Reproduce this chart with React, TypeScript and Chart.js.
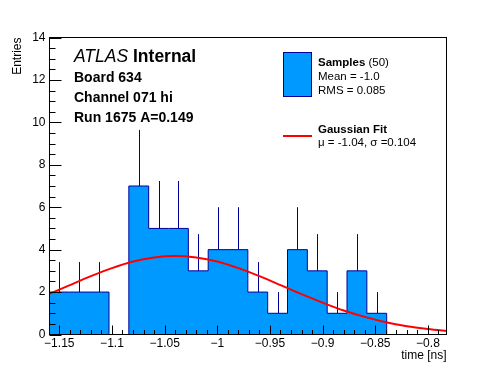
import React, { useEffect, useRef } from "react";
import { Chart, registerables } from "chart.js";

Chart.register(...registerables);

// ---- data ----
const binLow = -1.1593;
const binWidth = 0.01883;
const binCounts = [2, 2, 2, 0, 7, 5, 5, 3, 4, 4, 2, 1, 4, 3, 1, 3, 1];

const fitX = [-1.16, -1.14, -1.12, -1.1, -1.08, -1.06, -1.04, -1.02, -1.0, -0.98, -0.96, -0.94, -0.92, -0.9, -0.88, -0.86, -0.84, -0.82, -0.8, -0.78];
const fitY = [1.9, 2.33, 2.75, 3.13, 3.44, 3.63, 3.7, 3.63, 3.44, 3.13, 2.75, 2.33, 1.9, 1.5, 1.13, 0.83, 0.58, 0.39, 0.26, 0.16];

const xMin = -1.1593;
const xMax = -0.7824;
const yMin = 0;
const yMax = 14;
const xTickValues = [-1.15, -1.1, -1.05, -1, -0.95, -0.9, -0.85, -0.8];
const yTickValues = [0, 2, 4, 6, 8, 10, 12, 14];

const atlasWord = "ATLAS";
const atlasTag = "Internal";
const infoLines = ["Board 634", "Channel 071 hi", "Run 1675 A=0.149"];
const samplesLabel = "Samples";
const samplesCount = " (50)";
const samplesStats = ["Mean = -1.0", "RMS = 0.085"];
const fitLabel = "Gaussian Fit";
const fitStats = "\u03bc = -1.04, \u03c3 =0.104";
const xTitle = "time [ns]";
const yTitle = "Entries";

// ---- styles ----
const FONT = '"Liberation Sans", Arial, Helvetica, sans-serif';
const FILL = "#0099ff";
const EDGE = "#000099";
const FITC = "#ff0000";

function fmtX(v: number): string {
  const s = String(Math.round(v * 100) / 100);
  return s.replace("-", "\u2212");
}

const overlay = {
  id: "rootStyle",
  afterDatasetDraw(chart: any, args: any) {
    if (args.index !== 1) return;
    const ctx = chart.ctx;
    const xs = chart.scales.x;
    const ys = chart.scales.y;
    ctx.save();
    ctx.strokeStyle = EDGE;
    ctx.lineWidth = 1;
    binCounts.forEach((c, i) => {
      if (c <= 0) return;
      const cx = binLow + (i + 0.5) * binWidth;
      const px = Math.round(xs.getPixelForValue(cx)) + 0.5;
      const y1 = ys.getPixelForValue(c);
      const y2 = ys.getPixelForValue(c + Math.sqrt(c));
      ctx.beginPath();
      ctx.moveTo(px, y1);
      ctx.lineTo(px, y2);
      ctx.stroke();
    });
    ctx.restore();
  },
  afterDraw(chart: any) {
    const ctx = chart.ctx;
    const a = chart.chartArea;
    const xs = chart.scales.x;
    const ys = chart.scales.y;
    ctx.save();
    // frame
    ctx.strokeStyle = "#000";
    ctx.lineWidth = 1;
    ctx.strokeRect(a.left, a.top, a.right - a.left, a.bottom - a.top);
    // y ticks
    ctx.beginPath();
    for (let k = 0; k <= 28; k++) {
      const v = k * 0.5;
      const py = Math.round(ys.getPixelForValue(v)) + 0.5;
      const len = k % 4 === 0 ? 12 : 6;
      ctx.moveTo(a.left, py);
      ctx.lineTo(a.left + len, py);
    }
    // x ticks
    for (let k = -116; k <= -78; k++) {
      const v = k / 100;
      if (v < xMin || v > xMax) continue;
      const px = Math.round(xs.getPixelForValue(v)) + 0.5;
      const len = k % 5 === 0 ? 9 : 4.5;
      ctx.moveTo(px, a.bottom);
      ctx.lineTo(px, a.bottom - len);
    }
    ctx.stroke();

    // labels top-left
    ctx.fillStyle = "#000";
    ctx.textBaseline = "alphabetic";
    ctx.textAlign = "left";
    ctx.font = `italic 17.5px ${FONT}`;
    ctx.fillText(atlasWord, 74, 62);
    const w1 = ctx.measureText(atlasWord + " ").width;
    ctx.font = `bold 17.5px ${FONT}`;
    ctx.fillText(atlasTag, 74 + w1, 62);
    ctx.font = `bold 14px ${FONT}`;
    infoLines.forEach((t, i) => ctx.fillText(t, 74, 82 + i * 20));

    // legend
    ctx.fillStyle = FILL;
    ctx.fillRect(283, 52, 29, 45);
    ctx.strokeStyle = EDGE;
    ctx.strokeRect(283.5, 52.5, 28, 44);
    ctx.fillStyle = "#000";
    ctx.font = `bold 11.5px ${FONT}`;
    ctx.fillText(samplesLabel, 318, 66);
    const w2 = ctx.measureText(samplesLabel).width;
    ctx.font = `11.5px ${FONT}`;
    ctx.fillText(samplesCount, 318 + w2, 66);
    ctx.fillText(samplesStats[0], 318, 80);
    ctx.fillText(samplesStats[1], 318, 94);

    ctx.strokeStyle = FITC;
    ctx.lineWidth = 2;
    ctx.beginPath();
    ctx.moveTo(283, 136);
    ctx.lineTo(312, 136);
    ctx.stroke();
    ctx.font = `bold 11.5px ${FONT}`;
    ctx.fillText(fitLabel, 318, 133);
    ctx.font = `11.5px ${FONT}`;
    ctx.fillText(fitStats, 318, 146);
    ctx.restore();
  },
};

export default function App() {
  const ref = useRef<HTMLCanvasElement | null>(null);
  useEffect(() => {
    if (!ref.current) return;
    const edges = binCounts.map((_, i) => binLow + i * binWidth);
    const lastEdge = binLow + binCounts.length * binWidth;
    const histPts: { x: number; y: number }[] = [{ x: binLow, y: 0 }];
    binCounts.forEach((c, i) => histPts.push({ x: edges[i], y: c }));
    histPts.push({ x: lastEdge, y: binCounts[binCounts.length - 1] });
    histPts.push({ x: lastEdge, y: 0 });

    const chart = new Chart(ref.current, {
      type: "line",
      data: {
        datasets: [
          {
            label: "fit",
            data: fitX.map((x, i) => ({ x, y: fitY[i] })),
            borderColor: FITC,
            borderWidth: 2,
            pointRadius: 0,
            cubicInterpolationMode: "monotone",
            fill: false,
            order: 0,
          } as any,
          {
            label: "hist",
            data: histPts,
            stepped: "before",
            borderColor: EDGE,
            borderWidth: 1,
            backgroundColor: FILL,
            fill: "origin",
            pointRadius: 0,
            order: 1,
          } as any,
        ],
      },
      options: {
        responsive: false,
        animation: false,
        devicePixelRatio: 1,
        layout: { padding: { left: 0, right: 49.5, top: 37.5, bottom: 0 } },
        plugins: { legend: { display: false }, tooltip: { enabled: false } },
        scales: {
          x: {
            type: "linear",
            min: xMin,
            max: xMax,
            grid: { display: false, drawTicks: false },
            border: { display: false },
            afterBuildTicks: (s: any) => {
              s.ticks = xTickValues.map((v) => ({ value: v }));
            },
            afterFit: (s: any) => {
              s.height = 37.5;
            },
            ticks: {
              autoSkip: false,
              maxRotation: 0,
              padding: 2,
              color: "#000",
              font: { family: FONT, size: 12 },
              callback: (v: any) => fmtX(Number(v)),
            },
            title: {
              display: true,
              text: xTitle,
              align: "end",
              color: "#000",
              font: { family: FONT, size: 12 },
              padding: { top: 0, bottom: 9 },
            },
          },
          y: {
            type: "linear",
            min: yMin,
            max: yMax,
            grid: { display: false, drawTicks: false },
            border: { display: false },
            afterBuildTicks: (s: any) => {
              s.ticks = yTickValues.map((v) => ({ value: v }));
            },
            afterFit: (s: any) => {
              s.width = 49.5;
            },
            ticks: {
              padding: 4,
              color: "#000",
              font: { family: FONT, size: 12 },
              callback: (v: any) => String(v),
            },
            title: {
              display: true,
              text: yTitle,
              align: "end",
              color: "#000",
              font: { family: FONT, size: 12 },
              padding: { top: 10, bottom: 0 },
            },
          },
        },
      } as any,
      plugins: [overlay],
    });
    return () => chart.destroy();
  }, []);
  return (
    <div style={{ position: "fixed", left: 0, top: 0, width: 496, height: 372, background: "#fff" }}>
      <canvas ref={ref} width={496} height={372} style={{ display: "block", width: 496, height: 372 }} />
    </div>
  );
}
